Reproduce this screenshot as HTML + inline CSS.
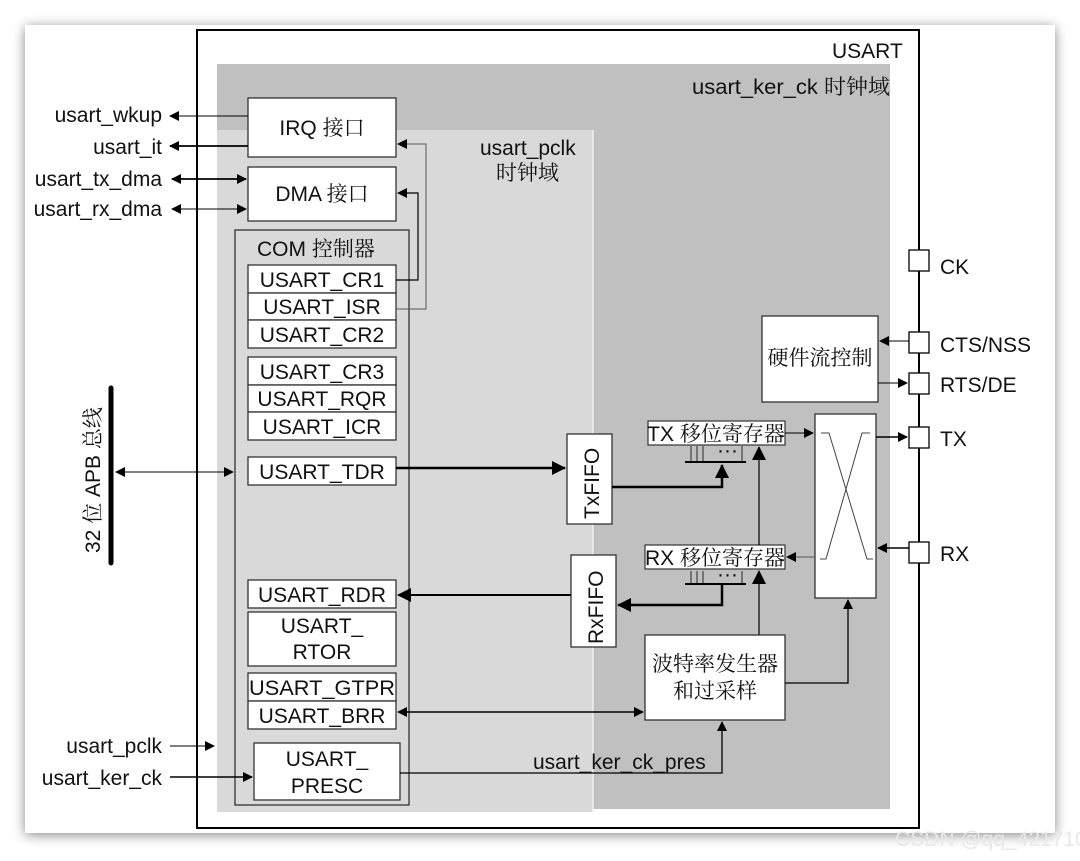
<!DOCTYPE html>
<html><head><meta charset="utf-8"><style>
html,body{margin:0;padding:0;background:#fff;}
svg{display:block;}
text{font-family:"Liberation Sans","Noto Sans CJK SC",sans-serif;font-size:21px;fill:#111;}
.c{font-family:"Liberation Sans","Noto Serif CJK SC",serif;}
</style></head><body>
<svg width="1080" height="861" viewBox="0 0 1080 861" xmlns="http://www.w3.org/2000/svg">
<defs>
<filter id="sh" x="-5%" y="-5%" width="110%" height="110%"><feGaussianBlur stdDeviation="6"/></filter>
<marker id="a" markerWidth="10" markerHeight="10" refX="9" refY="5" orient="auto" markerUnits="userSpaceOnUse"><path d="M0,0 L10,5 L0,10 z" fill="#000"/></marker>
<marker id="ab" markerWidth="14" markerHeight="14" refX="13" refY="7" orient="auto" markerUnits="userSpaceOnUse"><path d="M0,0 L14,7 L0,14 z" fill="#000"/></marker>
<marker id="as" markerWidth="10" markerHeight="10" refX="1" refY="5" orient="auto" markerUnits="userSpaceOnUse"><path d="M10,0 L0,5 L10,10 z" fill="#000"/></marker>
</defs>
<rect x="25" y="27" width="1030" height="808" fill="#888" filter="url(#sh)"/>
<rect x="25" y="25" width="1030" height="808" fill="#fff"/>
<rect x="197" y="30" width="722" height="798" fill="#fff" stroke="#000" stroke-width="2"/>
<rect x="217" y="64" width="673" height="745" fill="#c0c0c0"/>
<rect x="217" y="130" width="376" height="682" fill="#d9d9d9"/>
<line x1="593" y1="130" x2="593" y2="812" stroke="#fff" stroke-width="1"/>
<text x="832" y="58" font-size="21">USART</text>
<text x="692" y="94" class="c" textLength="198" lengthAdjust="spacingAndGlyphs">usart_ker_ck 时钟域</text>
<text x="480" y="155" class="c">usart_pclk</text>
<text x="496" y="180" class="c">时钟域</text>
<rect x="248" y="98" width="148" height="59" fill="#fff" stroke="#333" stroke-width="1.3"/>
<text x="322" y="135" text-anchor="middle" class="c">IRQ 接口</text>
<rect x="248" y="167" width="148" height="54" fill="#fff" stroke="#333" stroke-width="1.3"/>
<text x="322" y="201" text-anchor="middle" class="c">DMA 接口</text>
<text x="162" y="122" text-anchor="end">usart_wkup</text>
<text x="162" y="154" text-anchor="end">usart_it</text>
<text x="162" y="186" text-anchor="end">usart_tx_dma</text>
<text x="162" y="216" text-anchor="end">usart_rx_dma</text>
<line x1="248" y1="116" x2="170" y2="116" stroke="#000" marker-end="url(#a)"/>
<line x1="248" y1="146" x2="170" y2="146" stroke="#000" stroke-width="1.8" marker-end="url(#a)"/>
<line x1="172" y1="179" x2="246" y2="179" stroke="#000" stroke-width="1.8" marker-start="url(#as)" marker-end="url(#a)"/>
<line x1="172" y1="209" x2="246" y2="209" stroke="#000" marker-start="url(#as)" marker-end="url(#a)"/>
<rect x="235" y="230" width="174" height="575" fill="#d9d9d9" stroke="#333" stroke-width="1.3"/>
<text x="257" y="256" class="c">COM 控制器</text>
<g stroke="#333" stroke-width="1.3" fill="#fff">
<rect x="248" y="265" width="148" height="28"/>
<rect x="248" y="293" width="148" height="27"/>
<rect x="248" y="320" width="148" height="28"/>
<rect x="248" y="357" width="148" height="28"/>
<rect x="248" y="385" width="148" height="27"/>
<rect x="248" y="412" width="148" height="28"/>
<rect x="248" y="457" width="148" height="28"/>
<rect x="248" y="580" width="148" height="28"/>
<rect x="248" y="612" width="148" height="54"/>
<rect x="248" y="673" width="148" height="28"/>
<rect x="248" y="701" width="148" height="28"/>
<rect x="254" y="743" width="146" height="57"/>
</g>
<g font-size="21">
<text x="322" y="287" text-anchor="middle">USART_CR1</text>
<text x="322" y="314" text-anchor="middle">USART_ISR</text>
<text x="322" y="342" text-anchor="middle">USART_CR2</text>
<text x="322" y="379" text-anchor="middle">USART_CR3</text>
<text x="322" y="406" text-anchor="middle">USART_RQR</text>
<text x="322" y="434" text-anchor="middle">USART_ICR</text>
<text x="322" y="479" text-anchor="middle">USART_TDR</text>
<text x="322" y="602" text-anchor="middle">USART_RDR</text>
<text x="322" y="633" text-anchor="middle">USART_</text>
<text x="322" y="659" text-anchor="middle">RTOR</text>
<text x="322" y="695" text-anchor="middle" textLength="146" lengthAdjust="spacingAndGlyphs">USART_GTPR</text>
<text x="322" y="723" text-anchor="middle">USART_BRR</text>
<text x="327" y="766" text-anchor="middle">USART_</text>
<text x="327" y="793" text-anchor="middle">PRESC</text>
</g>
<polyline points="396,280 418,280 418,193 398,193" fill="none" stroke="#000" stroke-width="1.2" marker-end="url(#a)"/>
<polyline points="396,309 426,309 426,144 398,144" fill="none" stroke="#555" stroke-width="1" marker-end="url(#a)"/>
<line x1="111" y1="388" x2="111" y2="563" stroke="#000" stroke-width="5" stroke-linecap="round"/>
<text transform="translate(100,553) rotate(-90)" font-size="22" class="c">32 位 APB 总线</text>
<line x1="116" y1="472" x2="233" y2="472" stroke="#000" marker-start="url(#as)" marker-end="url(#a)"/>
<rect x="567" y="434" width="45" height="90" fill="#fff" stroke="#333" stroke-width="1.3"/>
<text transform="translate(599,519) rotate(-90)" font-size="21">TxFIFO</text>
<rect x="571" y="555" width="45" height="92" fill="#fff" stroke="#333" stroke-width="1.3"/>
<text transform="translate(603,644) rotate(-90)" font-size="21">RxFIFO</text>
<line x1="396" y1="468" x2="565" y2="468" stroke="#000" stroke-width="2.5" marker-end="url(#ab)"/>
<line x1="571" y1="595" x2="398" y2="595" stroke="#000" stroke-width="2" marker-end="url(#ab)"/>
<rect x="648" y="421" width="137" height="24" fill="#fff" stroke="#333" stroke-width="1.2"/>
<text x="716" y="441" text-anchor="middle" class="c" font-size="19">TX 移位寄存器</text>
<rect x="645" y="545" width="140" height="24" fill="#fff" stroke="#333" stroke-width="1.2"/>
<text x="715" y="565" text-anchor="middle" class="c" font-size="19">RX 移位寄存器</text>
<g stroke="#000" stroke-width="0.8">
<line x1="691" y1="461" x2="691" y2="446"/><line x1="697" y1="461" x2="697" y2="446"/><line x1="703" y1="461" x2="703" y2="446"/><line x1="742" y1="461" x2="742" y2="446"/>
<line x1="691" y1="571" x2="691" y2="584"/><line x1="697" y1="571" x2="697" y2="584"/><line x1="703" y1="571" x2="703" y2="584"/><line x1="742" y1="571" x2="742" y2="584"/>
</g>
<text x="717" y="457" font-size="14">···</text>
<text x="717" y="581" font-size="14">···</text>
<line x1="685" y1="462" x2="746" y2="462" stroke="#000" stroke-width="2"/>
<line x1="685" y1="584" x2="746" y2="584" stroke="#000" stroke-width="2"/>
<polyline points="612,487 722,487 722,465" fill="none" stroke="#000" stroke-width="2.5" marker-end="url(#ab)"/>
<polyline points="722,585 722,605 618,605" fill="none" stroke="#000" stroke-width="2.5" marker-end="url(#ab)"/>
<line x1="759" y1="635" x2="759" y2="571" stroke="#000" stroke-width="1.2" marker-end="url(#ab)"/>
<line x1="759" y1="545" x2="759" y2="447" stroke="#000" stroke-width="1.2" marker-end="url(#ab)"/>
<rect x="815" y="414" width="61" height="184" fill="#fff" stroke="#333" stroke-width="1.3"/>
<polyline points="821,433 829,433 867,559 873,559" fill="none" stroke="#444"/>
<polyline points="870,433 862,433 826,559 820,559" fill="none" stroke="#444"/>
<line x1="785" y1="433" x2="813" y2="433" stroke="#000" marker-end="url(#a)"/>
<line x1="815" y1="557" x2="787" y2="557" stroke="#555" marker-end="url(#a)"/>
<rect x="762" y="316" width="116" height="86" fill="#fff" stroke="#333" stroke-width="1.3"/>
<text x="820" y="365" text-anchor="middle" class="c" font-size="21">硬件流控制</text>
<g fill="#fff" stroke="#000" stroke-width="1.3">
<rect x="909" y="250" width="20" height="21"/>
<rect x="909" y="332" width="20" height="21"/>
<rect x="909" y="373" width="20" height="21"/>
<rect x="909" y="427" width="20" height="21"/>
<rect x="909" y="542" width="20" height="21"/>
</g>
<text x="940" y="274">CK</text>
<text x="940" y="352">CTS/NSS</text>
<text x="940" y="392">RTS/DE</text>
<text x="940" y="446">TX</text>
<text x="940" y="561">RX</text>
<line x1="909" y1="341" x2="880" y2="341" stroke="#000" marker-end="url(#a)"/>
<line x1="878" y1="383" x2="907" y2="383" stroke="#000" marker-end="url(#a)"/>
<line x1="876" y1="437" x2="907" y2="437" stroke="#000" stroke-width="1.5" marker-end="url(#a)"/>
<line x1="909" y1="548" x2="878" y2="548" stroke="#000" stroke-width="1.5" marker-end="url(#a)"/>
<rect x="645" y="635" width="140" height="85" fill="#fff" stroke="#333" stroke-width="1.3"/>
<text x="715" y="671" text-anchor="middle" class="c">波特率发生器</text>
<text x="715" y="698" text-anchor="middle" class="c">和过采样</text>
<polyline points="785,683 848,683 848,600" fill="none" stroke="#000" stroke-width="1.3" marker-end="url(#a)"/>
<line x1="398" y1="712" x2="643" y2="712" stroke="#000" stroke-width="1.5" marker-start="url(#as)" marker-end="url(#a)"/>
<text x="162" y="753" text-anchor="end">usart_pclk</text>
<text x="162" y="785" text-anchor="end">usart_ker_ck</text>
<line x1="170" y1="746" x2="214" y2="746" stroke="#000" marker-end="url(#a)"/>
<line x1="170" y1="777" x2="252" y2="777" stroke="#000" stroke-width="1.5" marker-end="url(#a)"/>
<polyline points="400,773 722,773 722,722" fill="none" stroke="#000" stroke-width="1.3" marker-end="url(#a)"/>
<text x="533" y="769">usart_ker_ck_pres</text>
<text x="895" y="846" font-size="14" style="fill:#e8e8e8">CSDN @qq_42171047</text>
</svg>
</body></html>
